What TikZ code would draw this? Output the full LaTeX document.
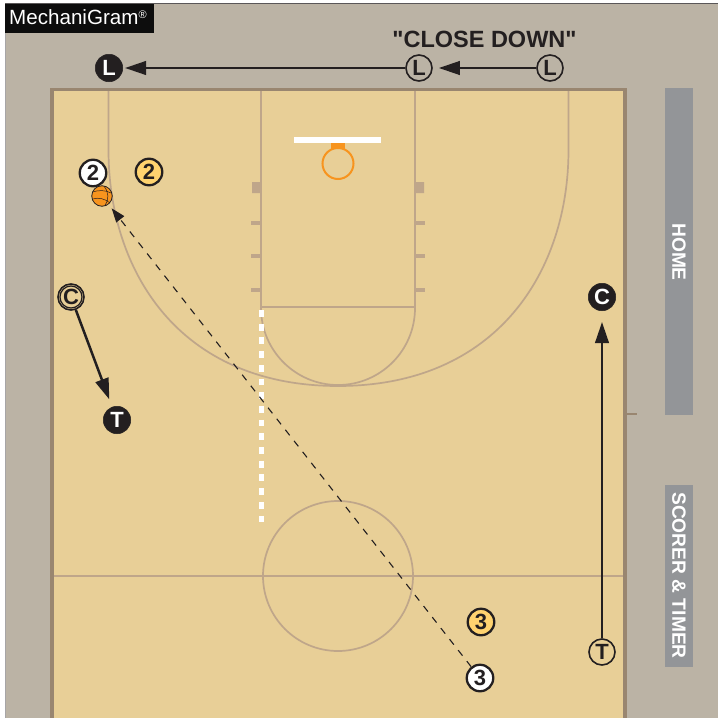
\documentclass[tikz,border=0pt]{standalone}
\usepackage{fontspec}
\setmainfont{Liberation Sans}
\newfontfamily\plainsans{Liberation Sans}
\usetikzlibrary{arrows.meta}
\definecolor{bgray}{HTML}{BBB3A5}
\definecolor{court}{HTML}{E8CF97}
\definecolor{border}{HTML}{998670}
\definecolor{cline}{HTML}{BFA68A}
\definecolor{panel}{HTML}{939598}
\definecolor{ink}{HTML}{231F20}
\definecolor{pyellow}{HTML}{FFD36F}
\definecolor{porange}{HTML}{F7941E}
\tikzset{
  x=1pt,y=-1pt,
  player/.style={circle,minimum size=26.5pt,inner sep=0pt,line width=2.3pt,draw=ink,font=\fontsize{22}{22}\selectfont\bfseries,text=ink},
  offw/.style={player,fill=white},
  offy/.style={player,fill=pyellow},
  refb/.style={player,fill=ink,text=white,minimum size=27.5pt,line width=.5pt},
  refo/.style={player,minimum size=26pt,line width=1.6pt},
  mv/.style={line width=2.5pt,draw=ink,-{Triangle[length=21pt,width=13.5pt]}},
  courtline/.style={line width=1.7pt,draw=cline},
  hash/.style={line width=3.5pt,draw=cline},
  paneltxt/.style={rotate=-90,text=white,font=\fontsize{19.2}{20}\selectfont\bfseries,inner sep=0pt},
}
\begin{document}
\begin{tikzpicture}
\useasboundingbox (0,0) rectangle (718,718);
\fill[white] (0,0) rectangle (718,718);
\fill[bgray] (5,4) rectangle (718,718);
\draw[line width=1pt,ink!75] (5,3.5) -- (718,3.5);
\draw[line width=1pt,ink!40] (5.5,3.5) -- (5.5,718);
% court
\fill[court] (52,90) rectangle (625,718);
% court markings
\draw[courtline] (108.5,90) -- (108.5,150) .. controls (108.5,270) and (178,386) .. (338,386) .. controls (498,386) and (568.5,270) .. (568.5,150) -- (568.5,90);
\draw[courtline] (261,90) -- (261,307) -- (415,307) -- (415,90);
\draw[courtline] (261,308) arc[start angle=180,end angle=360,radius=77pt];
\draw[courtline] (52,576) -- (625,576);
\draw[courtline] (338,576) circle[radius=75pt];
\draw[line width=5pt,white,dash pattern=on 6.8pt off 6.9pt] (261,310) -- (261,524);
\fill[cline] (252,182) rectangle (261,193) (415,182) rectangle (424,193);
\foreach \yy in {223,256,290}{
  \draw[hash] (251,\yy) -- (261,\yy);
  \draw[hash] (415,\yy) -- (425,\yy);
}
\draw[line width=3.5pt,border] (52,718) -- (52,89.5) -- (625,89.5) -- (625,718);
\draw[line width=1.5pt,border] (627,414) -- (637,414);
% backboard and ring
\fill[white] (294,136.5) rectangle (381,142.5);
\fill[porange] (331,143) rectangle (345,149);
\draw[porange,line width=2pt] (338,163.5) circle[radius=15.5pt];
% panels
\fill[panel] (665,88) rectangle (693,415);
\fill[panel] (665,485) rectangle (693,667);
\node[paneltxt] (home) at (679,252) {HOME};
\node[paneltxt] (scorer) at (679,575.5) {SCORER \& TIMER};
% title tab
\fill[black!95] (5,4) rectangle (154,33);
\node[text=white,anchor=west,inner sep=0pt,font=\fontsize{20.6}{21}\selectfont] (brand) at (9,17.5) {MechaniGram\raisebox{6pt}{\fontsize{11}{11}\selectfont®}};
\node[text=ink,inner sep=0pt,font=\plainsans\fontsize{23.5}{24}\selectfont\bfseries] (title) at (484.5,39) {"CLOSE DOWN"};
% players
\node[refb] (L1) at (109,68) {L};
\node[refo] (L2) at (419,68) {L};
\node[refo] (L3) at (550,68) {L};
\node[refb] (C1) at (602,297) {C};
\node[refo] (T1) at (602,652) {T};
\node[refb] (T2) at (117,420) {T};
\node[refo] (C2) at (71,297) {C};
\draw[ink,line width=1.2pt] (C2) circle[radius=11pt];
\node[offw] (w2) at (93,173) {2};
\node[offy] (y2) at (149,172) {2};
\node[offy] (y3) at (481,622) {3};
\node[offw] (w3) at (480,678) {3};
% ball
\node[circle,minimum size=20.5pt,inner sep=0pt,fill=porange,draw=ink,line width=.8pt] (ball) at (102,196) {};
\draw[ink,line width=.5pt] (92.6,192) .. controls (98,190) and (106,190) .. (111,193);
\draw[ink,line width=.5pt] (92.6,199) .. controls (98,197) and (106,199) .. (110,203);
\draw[ink,line width=.5pt] (104,186.3) .. controls (109,192) and (109,200) .. (105,205.5);
% connectors
\draw[mv,shorten >=2pt] (L2) -- (L1);
\draw[mv,shorten >=6pt] (L3) -- (L2);
\draw[mv,shorten >=11pt] (T1) -- (C1);
\draw[mv,shorten >=8pt] (C2) -- (T2);
\draw[line width=1.1pt,ink,dash pattern=on 7pt off 7pt,-{Triangle[length=14pt,width=10pt]},shorten >=5pt] (w3) -- (ball);
\end{tikzpicture}
\end{document}
